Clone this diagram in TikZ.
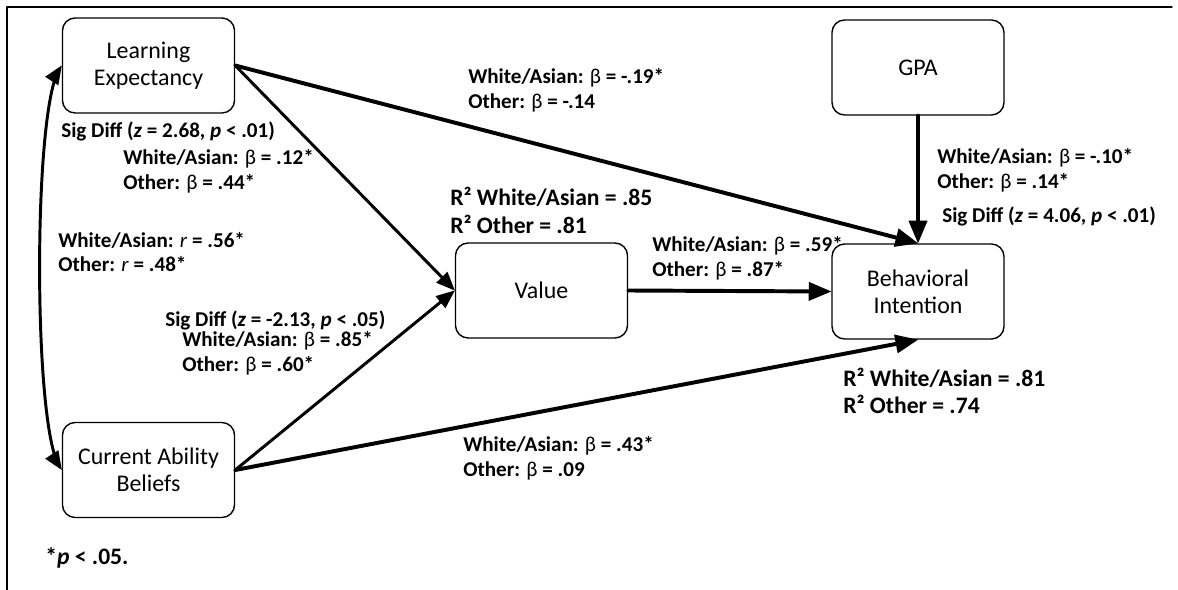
\documentclass[tikz,border=0pt]{standalone}
\usepackage{fontspec}
\setmainfont{Carlito}
\usepackage{tikz}
\usetikzlibrary{arrows}
\newcommand{\bet}{\textmd{β}}
\tikzstyle{every node}=[font=\fontsize{12}{17}\selectfont]
\tikzset{
  var/.style={draw,line width=1pt,rounded corners=9pt,minimum width=4.3cm,minimum height=2.375cm,align=center,font=\fontsize{17}{19.5}\selectfont},
  lbl/.style={anchor=west,align=left,inner sep=0pt,font=\bfseries\fontsize{15}{17.5}\selectfont},
  rsq/.style={anchor=west,align=left,inner sep=0pt,font=\bfseries\fontsize{16.8}{19.5}\selectfont},
  effect/.style={->,line width=2.8pt},
  thin effect/.style={->,line width=2.1pt}
}

\begin{document}
\begin{tikzpicture}[line cap=round,line join=round,>=triangle 45,x=0.025cm,y=-0.025cm]
            \useasboundingbox (0,0) rectangle (1178,590);
            \draw [line width=1pt] (1172,7) -- (7,7) -- (7,590);
            % variables
            \node[var] (le) at (148.5,65.5) {Learning\\Expectancy};
            \node[var] (gpa) at (918,67.5) {GPA};
            \node[var] (val) at (541.5,290.5) {Value};
            \node[var] (bi) at (918,291.5) {Behavioral\\Intention};
            \node[var] (cab) at (148.5,470) {Current Ability\\Beliefs};
            % paths
            \draw [effect] (le.east) -- (bi.north);
            \draw [thin effect] (le.east) -- (val.west);
            \draw [thin effect] (cab.east) -- (val.west);
            \draw [effect] (cab.east) -- (bi.south);
            \draw [effect] (val.east) -- (bi.west);
            \draw [effect] (gpa.south) -- (bi.north);
            \draw [<->,line width=2.1pt] (le.west) .. controls (33,110) and (33,425) .. (cab.west);
            % estimates
            \node[lbl] (le2bi) at (468,90) {White/Asian: \bet{} = -.19*\\Other: \bet{} = -.14};
            \node[lbl] (lediff) at (61,131) {Sig Diff (\textit{z} = 2.68, \textit{p} < .01)};
            \node[lbl] (le2val) at (123,171.5) {White/Asian: \bet{} = .12*\\Other: \bet{} = .44*};
            \node[lbl] (corr) at (58,252) {White/Asian: \textmd{\textit{r}} = .56*\\Other: \textmd{\textit{r}} = .48*};
            \node[rsq] (valr2) at (450,210.5) {R² White/Asian = .85\\R² Other = .81};
            \node[lbl] (val2bi) at (652,258.5) {White/Asian: \bet{} = .59*\\Other: \bet{} = .87*};
            \node[lbl] (gpa2bi) at (937,170) {White/Asian: \bet{} = -.10*\\Other: \bet{} = .14*};
            \node[lbl] (gpadiff) at (942,216) {Sig Diff (\textit{z} = 4.06, \textit{p} < .01)};
            \node[lbl] (cabdiff) at (165,320) {Sig Diff (\textit{z} = -2.13, \textit{p} < .05)};
            \node[lbl] (cab2val) at (182,353.5) {White/Asian: \bet{} = .85*\\Other: \bet{} = .60*};
            \node[lbl] (cab2bi) at (463,458.5) {White/Asian: \bet{} = .43*\\Other: \bet{} = .09};
            \node[rsq] (bir2) at (843,391) {R² White/Asian = .81\\R² Other = .74};
            \node[rsq] (note) at (45,558) {*\textit{p} < .05.};
\end{tikzpicture}
\end{document}
